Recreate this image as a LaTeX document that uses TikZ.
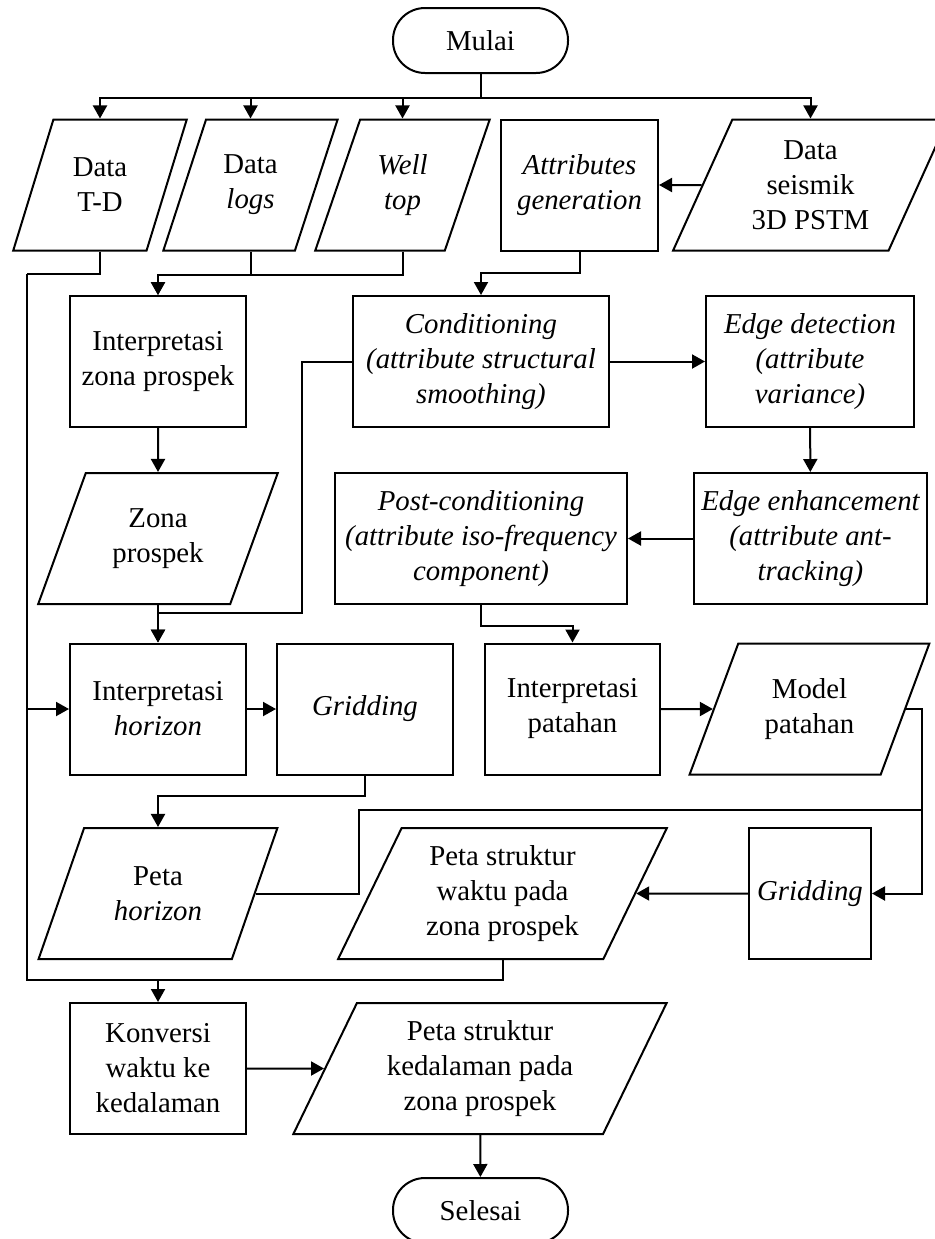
\documentclass[tikz,border=0pt]{standalone}
\usepackage{fontspec}
\setmainfont{Liberation Serif}
\usetikzlibrary{arrows.meta,shapes.geometric}

\begin{document}
\begin{tikzpicture}[x=0.5pt,y=-0.5pt,
  font=\fontsize{14.4}{17.5}\selectfont,
  line width=1pt,
  proc/.style={draw,rectangle,align=center,minimum height=65.5pt,inner sep=2pt},
  io/.style={draw,trapezium,trapezium left angle=63.4,trapezium right angle=116.6,
    trapezium stretches=true,align=center,minimum height=65.5pt,inner sep=0pt},
  term/.style={draw,rectangle,rounded corners=16pt,minimum width=87.5pt,
    minimum height=32.5pt},
  ital/.style={font=\fontsize{14.4}{17.5}\selectfont\itshape},
  arr/.style={-{Triangle[length=6.5pt,width=7pt]}}
]
\useasboundingbox (0,0) rectangle (935,1239);

% input data
\node[term] (start) at (480.5,40.5) {Mulai};
\node[io,minimum width=87pt,trapezium left angle=66.5,trapezium right angle=113.5]
  (td) at (100,185) {Data\\T-D};
\node[io,minimum width=87.5pt,trapezium left angle=66.5,trapezium right angle=113.5]
  (logs) at (250.5,185) {Data\\\textit{logs}};
\node[io,ital,minimum width=87.5pt,trapezium left angle=66.5,trapezium right angle=113.5]
  (well) at (402.5,185) {Well\\top};
\node[proc,ital,minimum width=78.5pt] (attr) at (579.5,185) {Attributes\\generation};
\node[io,minimum width=137.5pt] (seis) at (810.5,185) {Data\\seismik\\3D PSTM};

% attribute chain
\node[proc,minimum width=88pt] (izona) at (158,361.5) {Interpretasi\\zona prospek};
\node[proc,ital,minimum width=128pt] (cond) at (481,361.5)
  {Conditioning\\(attribute structural\\smoothing)};
\node[proc,ital,minimum width=104pt] (edet) at (810,361.5)
  {Edge detection\\(attribute\\variance)};
\node[io,minimum width=120pt] (zona) at (158,538.5) {Zona\\prospek};
\node[proc,ital,minimum width=146pt] (post) at (481,538.5)
  {Post-conditioning\\(attribute iso-frequency\\component)};
\node[proc,ital,minimum width=116.5pt] (eenh) at (810.5,538.5)
  {Edge enhancement\\(attribute ant-\\tracking)};

% interpretation
\node[proc,minimum width=88pt] (ihor) at (158,709) {Interpretasi\\\textit{horizon}};
\node[proc,ital,minimum width=88pt] (grid1) at (365,709) {Gridding};
\node[proc,minimum width=87.5pt] (ipat) at (572.5,709) {Interpretasi\\patahan};
\node[io,minimum width=120.5pt] (model) at (809.5,709) {Model\\patahan};
\node[io,minimum width=120pt] (phor) at (158,893.5) {Peta\\\textit{horizon}};
\node[io,minimum width=164.5pt] (pwaktu) at (502.5,893.5)
  {Peta struktur\\waktu pada\\zona prospek};
\node[proc,ital,minimum width=61pt] (grid2) at (810,893.5) {Gridding};

% depth conversion
\node[proc,minimum width=88pt] (konv) at (158,1068.5) {Konversi\\waktu ke\\kedalaman};
\node[io,minimum width=187pt] (pdalam) at (480,1068.5)
  {Peta struktur\\kedalaman pada\\zona prospek};
\node[term] (stop) at (480.5,1210.5) {Selesai};

\coordinate (railtop) at (27,274);
\coordinate (railbot) at (27,980);
\coordinate (rail2) at (922,810);

\foreach \n in {td,logs,well,seis}
  \draw[arr] (start.south) -- ++(0,24) -| (\n.north);
\draw (td.south) |- (railtop);
\draw[arr] (railtop) -- (railbot) -| (konv.north);
\draw[arr] (railtop |- ihor.west) -- (ihor.west);
\draw[arr] (logs.south) -- ++(0,23) -| (izona.north);
\draw[arr] (well.south) -- ++(0,23) -| (izona.north);
\draw[arr] (seis) -- (attr);
\draw[arr] (attr.south) -- ++(0,21) -| (cond.north);
\draw[arr] (izona) -- (zona);
\draw[arr] (cond) -- (edet);
\draw[arr] (edet) -- (eenh);
\draw[arr] (eenh) -- (post);
\draw[arr] (cond.west) -- ++(-50,0) -- ++(0,251) -| (ihor.north);
\draw[arr] (zona) -- (ihor);
\draw[arr] (post.south) -- ++(0,21) -| (ipat.north);
\draw[arr] (ihor) -- (grid1);
\draw[arr] (ipat) -- (model);
\draw[arr] (grid1.south) -- ++(0,20) -| (phor.north);
\draw[arr] (model.east) -| (rail2) |- (grid2.east);
\draw (phor.east) -- ++(103,0) |- (rail2);
\draw[arr] (grid2) -- (pwaktu);
\draw (pwaktu.south) |- (konv.north |- railbot);
\draw[arr] (konv) -- (pdalam);
\draw[arr] (pdalam) -- (stop);
\end{tikzpicture}
\end{document}
